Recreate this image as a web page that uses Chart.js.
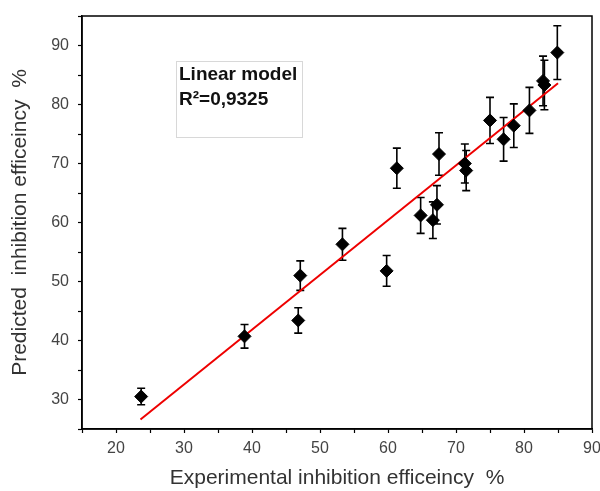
<!DOCTYPE html>
<html>
<head>
<meta charset="utf-8">
<script src="https://cdn.jsdelivr.net/npm/chart.js@4.4.1/dist/chart.umd.min.js"></script>
<style>
  html, body { margin: 0; padding: 0; background: #fff; }
  #wrap { width: 600px; height: 491px; position: relative; }
</style>
</head>
<body>
<div id="wrap"><canvas id="chart"></canvas></div>
<script>
// experimental vs predicted inhibition efficiency (%)
const expX  = [23.7, 38.9, 46.8, 47.1, 53.3, 59.8, 61.3, 64.8, 66.6, 67.2, 67.5, 71.3, 71.5, 75.0, 77.0, 78.5, 80.8, 82.8, 83.0, 84.9];
const predY = [30.5, 40.7, 43.4, 51.0, 56.3, 51.8, 69.2, 61.2, 60.4, 63.0, 71.6, 70.0, 68.8, 77.3, 74.1, 76.4, 79.0, 84.0, 83.3, 88.8];
const errY  = [1.4, 2.0, 2.15, 2.5, 2.7, 2.6, 3.4, 3.05, 3.1, 3.25, 3.6, 3.3, 3.4, 3.9, 3.7, 3.7, 3.9, 4.2, 4.2, 4.55];

// fitted line end points
const fitX = [23.6, 85.0];
const fitY = [26.6, 83.6];

const xTicks = [20, 30, 40, 50, 60, 70, 80, 90];
const yTicks = [30, 40, 50, 60, 70, 80, 90];

const legendLines = ['Linear model', 'R\u00B2=0,9325'];

const points = expX.map((x, i) => ({ x: x, y: predY[i] }));
const fitLine = fitX.map((x, i) => ({ x: x, y: fitY[i] }));

// error bars drawn under the markers
const errorBars = {
    id: 'errorBars',
    beforeDatasetsDraw(chart) {
        const ctx = chart.ctx;
        const xs = chart.scales.x, ys = chart.scales.y;
        ctx.save();
        ctx.strokeStyle = '#000';
        ctx.lineWidth = 1.6;
        expX.forEach((x, i) => {
            const px = xs.getPixelForValue(x);
            const top = ys.getPixelForValue(predY[i] + errY[i]);
            const bot = ys.getPixelForValue(predY[i] - errY[i]);
            ctx.beginPath();
            ctx.moveTo(px, top); ctx.lineTo(px, bot);
            ctx.moveTo(px - 4, top); ctx.lineTo(px + 4, top);
            ctx.moveTo(px - 4, bot); ctx.lineTo(px + 4, bot);
            ctx.stroke();
        });
        ctx.restore();
    }
};

// frame around the plot and the text box
const frame = {
    id: 'frame',
    afterDraw(chart) {
        const ctx = chart.ctx;
        const a = chart.chartArea;
        ctx.save();
        ctx.strokeStyle = '#000';
        ctx.lineWidth = 1.5;
        ctx.strokeRect(a.left, a.top, a.right - a.left, a.bottom - a.top);

        ctx.strokeStyle = '#d8d8d8';
        ctx.lineWidth = 1;
        ctx.strokeRect(176.5, 61.5, 126, 76);
        ctx.fillStyle = '#111';
        ctx.font = 'bold 19px "Liberation Sans", Arial, sans-serif';
        ctx.textBaseline = 'alphabetic';
        ctx.fillText(legendLines[0], 179, 80);
        ctx.fillText(legendLines[1], 179, 105);
        ctx.restore();
    }
};

const tickFont = { family: '"Liberation Sans", Arial, sans-serif', size: 16 };
const titleFont = { family: '"Liberation Sans", Arial, sans-serif', size: 21 };

new Chart(document.getElementById('chart'), {
    type: 'scatter',
    data: {
        datasets: [
            {
                data: points,
                pointStyle: 'rectRot',
                pointRadius: 6.5,
                pointHoverRadius: 6.5,
                backgroundColor: '#000',
                borderColor: '#000',
                borderWidth: 1,
                order: 1
            },
            {
                type: 'line',
                data: fitLine,
                borderColor: '#ee0000',
                borderWidth: 2,
                pointRadius: 0,
                fill: false,
                order: 2
            }
        ]
    },
    options: {
        responsive: true,
        maintainAspectRatio: false,
        animation: false,
        layout: { padding: { top: 16, right: 8, left: 0, bottom: 0 } },
        plugins: {
            legend: { display: false },
            tooltip: { enabled: false }
        },
        scales: {
            x: {
                type: 'linear',
                min: 15,
                max: 90,
                afterBuildTicks: (s) => { s.ticks = [15, 20, 25, 30, 35, 40, 45, 50, 55, 60, 65, 70, 75, 80, 85, 90].map(v => ({ value: v })); },
                afterFit: (s) => { s.height = 62; s.paddingLeft = 0; s.paddingRight = 0; },
                grid: { drawOnChartArea: false, drawTicks: true, tickLength: 4, color: '#000', tickWidth: 1.2 },
                border: { display: true, color: '#000', width: 1.5 },
                ticks: {
                    color: '#444',
                    font: tickFont,
                    padding: 6,
                    maxRotation: 0,
                    autoSkip: false,
                    callback: (v) => xTicks.includes(v) ? String(v) : ''
                },
                title: {
                    display: true,
                    text: 'Experimental inhibition efficeincy  %',
                    color: '#333',
                    font: titleFont,
                    padding: { top: 4, bottom: 0 }
                }
            },
            y: {
                type: 'linear',
                min: 25,
                max: 95,
                afterBuildTicks: (s) => { s.ticks = [25, 30, 35, 40, 45, 50, 55, 60, 65, 70, 75, 80, 85, 90, 95].map(v => ({ value: v })); },
                afterFit: (s) => { s.width = 82; s.paddingTop = 0; s.paddingBottom = 0; },
                grid: { drawOnChartArea: false, drawTicks: true, tickLength: 4, color: '#000', tickWidth: 1.2 },
                border: { display: true, color: '#000', width: 1.5 },
                ticks: {
                    color: '#444',
                    font: tickFont,
                    padding: 9,
                    autoSkip: false,
                    callback: (v) => yTicks.includes(v) ? String(v) : ''
                },
                title: {
                    display: true,
                    text: 'Predicted  inhibition efficeincy  %',
                    color: '#333',
                    font: titleFont,
                    padding: { top: 8, bottom: 4 }
                }
            }
        }
    },
    plugins: [errorBars, frame]
});
</script>
</body>
</html>
